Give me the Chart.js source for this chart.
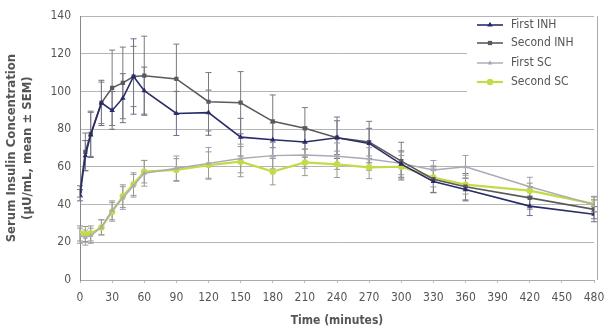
<!DOCTYPE html>
<html>
<head>
<meta charset="utf-8">
<script src="https://cdn.jsdelivr.net/npm/chart.js@4.4.0/dist/chart.umd.min.js"></script>
<style>
  html, body { margin: 0; padding: 0; background: #fff; }
  #wrap { width: 604px; height: 332px; }
</style>
</head>
<body>
<div id="wrap"><canvas id="chart" width="604" height="332"></canvas></div>
<script>
const tiempos = [0, 5, 10, 20, 30, 40, 50, 60, 90, 120, 150, 180, 210, 240, 270, 300, 330, 360, 420, 480];
const firstINH = [45, 66, 77, 94, 90, 96.5, 108, 100.5, 88.4, 88.8, 75.8, 74.4, 73.2, 75.5, 72.5, 61.5, 52.3, 48, 39.2, 34.9];
const secondINH = [47, 68, 77.6, 94, 102, 104.6, 108, 108.4, 106.7, 94.6, 94.1, 84.2, 80.5, 75.5, 73.2, 63.1, 53.5, 49.5, 43.6, 37.5];
const firstSC = [23.5, 22.5, 23.5, 28, 37, 43.5, 50, 56.6, 59.3, 61.9, 64.5, 66, 66.3, 65.7, 64.2, 61.9, 58.4, 60.1, 49.5, 40];
const secondSC = [24.7, 24.4, 24.7, 27.9, 36.2, 44.5, 50.9, 57.5, 58.4, 61, 62.8, 57.5, 62.4, 61.4, 59.8, 60.1, 54.4, 50.6, 47.4, 40.4];
// SEM
const errFirstINH = [3, 8, 12, 12, 10, 13, 20, 12.5, 11.7, 12, 10, 9, 8, 9, 8, 7, 6, 6, 5, 4];
const errSecondINH = [3, 10, 12, 11, 20, 19, 16, 21, 18.5, 15.5, 16.5, 14, 11, 11, 11, 10, 7, 7, 6, 5];
const errFirstSC = [4, 4, 4, 4, 5, 6, 6, 6.8, 6.5, 8.4, 7.6, 7, 7, 7, 6, 6, 5, 6, 5, 4];
const errSecondSC = [4, 4, 4, 4, 5, 6, 6, 6, 6, 7, 8, 7, 7, 7, 6, 6, 5, 5, 4, 4];
const ticksX = [0, 30, 60, 90, 120, 150, 180, 210, 240, 270, 300, 330, 360, 390, 420, 450, 480];

const fuente = "'Liberation Sans Narrow', 'DejaVu Sans Condensed', 'Roboto', sans-serif";
const gris = '#555555';

const serie = (label, valores, errores, color, estilo, radio, ancho, colorErr) => ({
    label: label,
    data: tiempos.map((t, i) => ({ x: t, y: valores[i] })),
    err: errores,
    errColor: colorErr,
    borderColor: color,
    backgroundColor: color,
    pointStyle: estilo,
    pointRadius: radio,
    pointBorderWidth: 0,
    borderWidth: ancho,
    tension: 0
});

// barras de error + leyenda dentro del grafico
const barrasError = {
    id: 'barrasError',
    beforeDatasetsDraw(chart) {
        const ctx = chart.ctx;
        const y = chart.scales.y;
        chart.data.datasets.forEach((ds, i) => {
            const meta = chart.getDatasetMeta(i);
            ctx.save();
            ctx.strokeStyle = ds.errColor;
            ctx.lineWidth = 1;
            meta.data.forEach((p, j) => {
                const v = ds.data[j].y, e = ds.err[j];
                const y1 = y.getPixelForValue(v + e), y2 = y.getPixelForValue(v - e);
                ctx.beginPath();
                ctx.moveTo(p.x, y1); ctx.lineTo(p.x, y2);
                ctx.moveTo(p.x - 3, y1); ctx.lineTo(p.x + 3, y1);
                ctx.moveTo(p.x - 3, y2); ctx.lineTo(p.x + 3, y2);
                ctx.stroke();
            });
            ctx.restore();
        });
    },
    afterDraw(chart) {
        const ctx = chart.ctx;
        const a = chart.chartArea;
        const borde = Math.round(a.right) + 3.5;
        ctx.save();
        // leyenda
        ctx.fillStyle = '#ffffff';
        ctx.fillRect(467, a.top + 1, borde - 467, 84);
        ctx.font = '12px ' + fuente;
        ctx.textBaseline = 'middle';
        const filas = [25, 43, 63, 82];
        chart.data.datasets.forEach((ds, i) => {
            const yy = filas[i];
            ctx.strokeStyle = ds.borderColor;
            ctx.lineWidth = ds.borderWidth;
            ctx.beginPath();
            ctx.moveTo(477, yy); ctx.lineTo(503, yy);
            ctx.stroke();
            ctx.fillStyle = ds.backgroundColor;
            Chart.helpers.drawPoint(ctx, { pointStyle: ds.pointStyle, radius: ds.pointRadius, borderWidth: 0 }, 490, yy);
            ctx.fillStyle = gris;
            ctx.fillText(ds.label, 511, yy);
        });
        // borde derecho
        ctx.strokeStyle = '#aaaaaa';
        ctx.lineWidth = 1;
        ctx.beginPath();
        ctx.moveTo(borde, a.top);
        ctx.lineTo(borde, a.bottom);
        ctx.stroke();
        ctx.restore();
    }
};

new Chart(document.getElementById('chart').getContext('2d'), {
    type: 'line',
    data: {
        datasets: [
            serie('First INH', firstINH, errFirstINH, '#2a2c6a', 'triangle', 3.2, 1.6, '#6a6c90'),
            serie('Second INH', secondINH, errSecondINH, '#5a5a5e', 'rect', 3, 1.6, '#7a7a7e'),
            serie('First SC', firstSC, errFirstSC, '#a9aab4', 'triangle', 2.8, 1.4, '#9a9cb0'),
            serie('Second SC', secondSC, errSecondSC, '#c4da48', 'circle', 3.2, 2.2, '#9a9c8a')
        ]
    },
    plugins: [barrasError],
    options: {
        responsive: false,
        animation: false,
        layout: { padding: { top: 13, right: 10, left: 0, bottom: 0 } },
        plugins: { legend: { display: false }, tooltip: { enabled: false } },
        scales: {
            x: {
                type: 'linear',
                min: 0,
                max: 480,
                afterBuildTicks: s => { s.ticks = ticksX.map(v => ({ value: v })); },
                afterFit: s => { s.height = 52; s.paddingLeft = 0; s.paddingRight = 0; },
                grid: { drawOnChartArea: false, drawTicks: true, tickLength: 3, color: '#bbbbbb' },
                border: { color: '#aaaaaa' },
                ticks: { color: gris, font: { family: fuente, size: 12 }, maxRotation: 0, autoSkip: false, padding: 8 },
                title: { display: true, text: 'Time (minutes)', color: gris, font: { family: fuente, size: 12, weight: 'bold' }, padding: { top: 0 } }
            },
            y: {
                min: 0,
                max: 140,
                afterFit: s => { s.width = 80; },
                grid: { color: '#b5b5b5', drawTicks: false },
                border: { display: true, color: '#888888' },
                ticks: { stepSize: 20, color: gris, font: { family: fuente, size: 12 }, padding: 9 },
                title: { display: true, text: ['Serum Insulin Concentration', '(\u00B5U/mL, mean \u00B1 SEM)'], color: gris, font: { family: fuente, size: 13, weight: 'bold' }, padding: { bottom: 2 } }
            }
        }
    }
});
</script>
</body>
</html>
